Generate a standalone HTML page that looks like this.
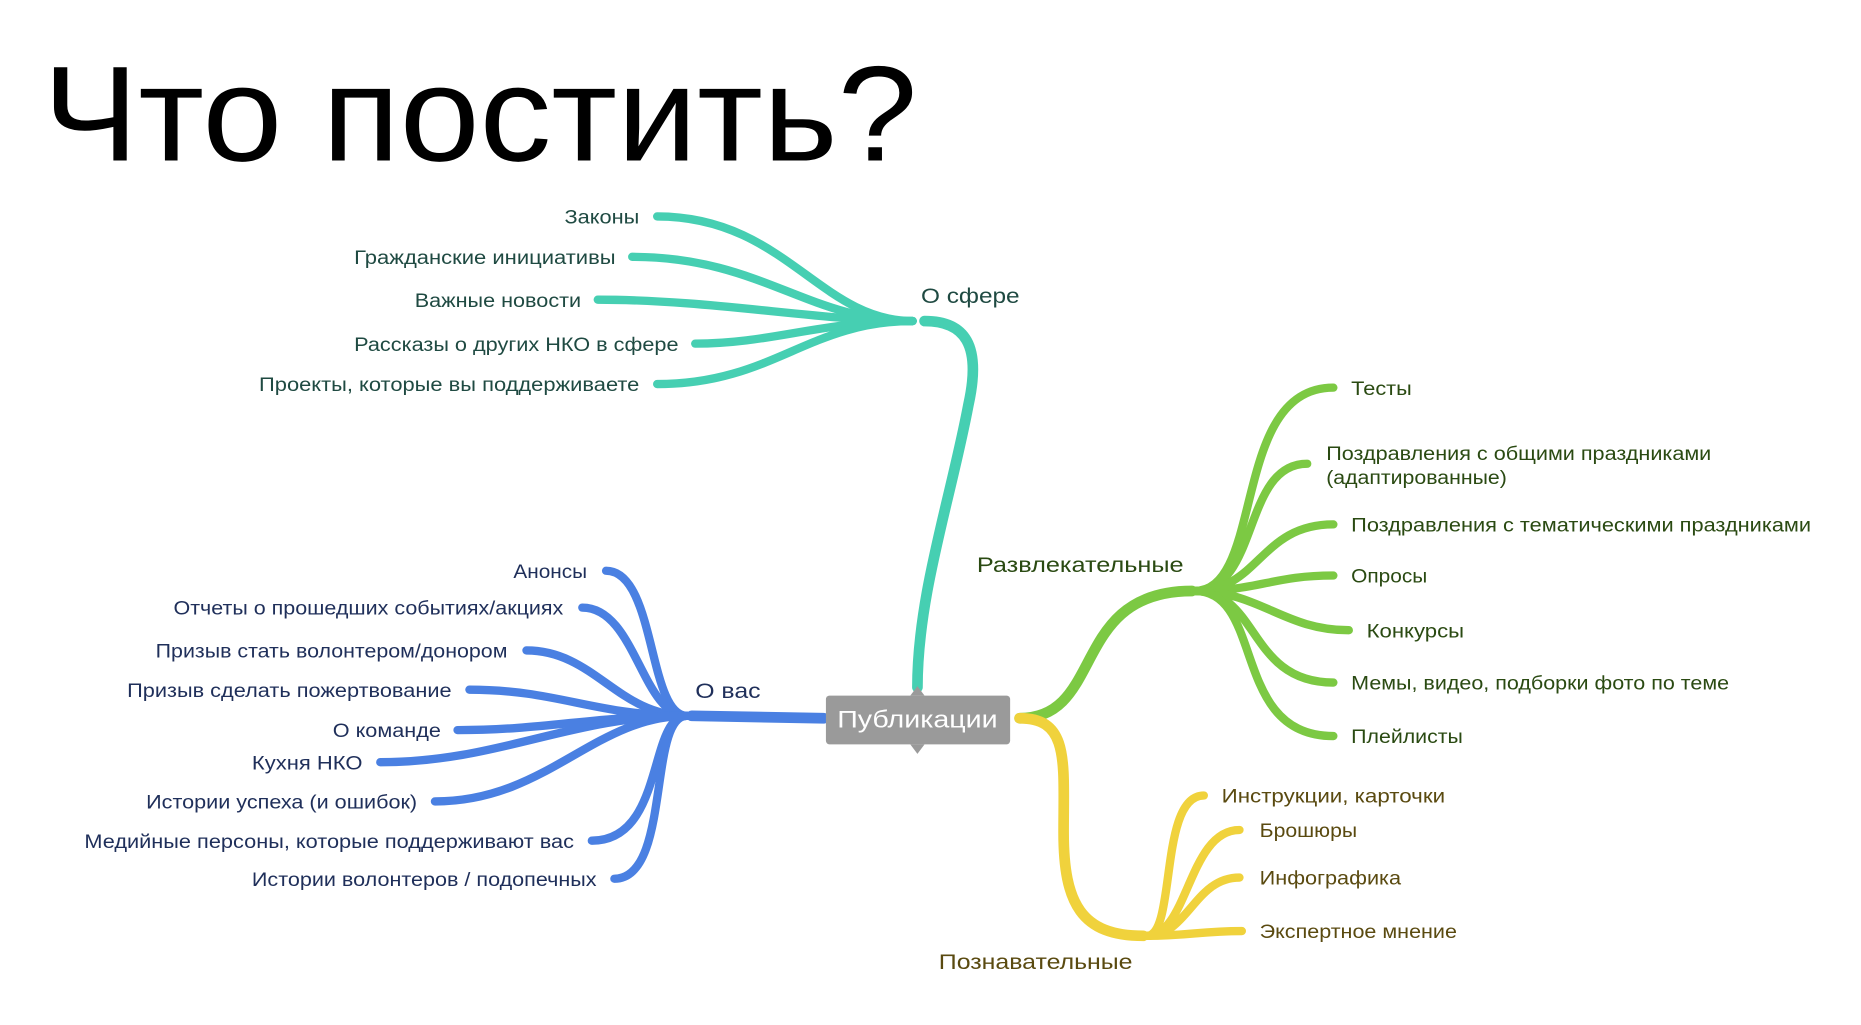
<!DOCTYPE html>
<html><head><meta charset="utf-8"><style>
html,body{margin:0;padding:0;background:#fff;}
svg{display:block;}
text{font-family:"Liberation Sans",sans-serif;}
.l{font-size:16px;}
.l text{lengthAdjust:spacingAndGlyphs;}
</style></head><body>
<svg width="1861" height="1025" viewBox="0 0 1566 862" preserveAspectRatio="none" xmlns="http://www.w3.org/2000/svg">
<text x="36" y="135" font-size="114" fill="#000" textLength="736" lengthAdjust="spacingAndGlyphs">Что постить?</text>

<!-- teal -->
<g fill="none" stroke="#46cfb2" stroke-linecap="round">
<path d="M772,578 C772,500 800,420 815,340 C826,290 812,270 778,270" stroke-width="9"/>
<g stroke-width="7">
<path d="M768,270 C690,270 660,182 553,182"/>
<path d="M768,270 C680,270 640,216 532,216"/>
<path d="M768,270 C690,270 600,252 503,252"/>
<path d="M768,270 C690,270 650,289 585,289"/>
<path d="M768,270 C680,270 650,323 553,323"/>
</g></g>
<g class="l" fill="#1f4a42" text-anchor="end">
<text x="538" y="188" textLength="63" lengthAdjust="spacingAndGlyphs">Законы</text>
<text x="518" y="222" textLength="220" lengthAdjust="spacingAndGlyphs">Гражданские инициативы</text>
<text x="489" y="258" textLength="140" lengthAdjust="spacingAndGlyphs">Важные новости</text>
<text x="571" y="295" textLength="273" lengthAdjust="spacingAndGlyphs">Рассказы о других НКО в сфере</text>
<text x="538" y="329" textLength="320" lengthAdjust="spacingAndGlyphs">Проекты, которые вы поддерживаете</text>
</g>
<text x="775" y="255" font-size="18" fill="#1f4a42" textLength="83" lengthAdjust="spacingAndGlyphs">О сфере</text>

<!-- blue -->
<g fill="none" stroke="#4a80e2" stroke-linecap="round">
<path d="M693,604 L582,602" stroke-width="9"/>
<g stroke-width="7">
<path d="M578,602 C545,602 552,480 510,480"/>
<path d="M578,602 C540,602 535,511 490,511"/>
<path d="M578,602 C520,602 500,547 443,547"/>
<path d="M578,602 C500,602 470,580 395,580"/>
<path d="M578,602 C500,602 460,614 385,614"/>
<path d="M578,602 C480,602 420,641 320,641"/>
<path d="M578,602 C500,602 460,674 366,674"/>
<path d="M578,602 C545,602 560,707 498,707"/>
<path d="M578,602 C545,602 565,739 517,739"/>
</g></g>
<g class="l" fill="#1f2f5a" text-anchor="end">
<text x="494" y="486" textLength="62" lengthAdjust="spacingAndGlyphs">Анонсы</text>
<text x="474" y="517" textLength="328" lengthAdjust="spacingAndGlyphs">Отчеты о прошедших событиях/акциях</text>
<text x="427" y="553" textLength="296" lengthAdjust="spacingAndGlyphs">Призыв стать волонтером/донором</text>
<text x="380" y="586" textLength="273" lengthAdjust="spacingAndGlyphs">Призыв сделать пожертвование</text>
<text x="371" y="620" textLength="91" lengthAdjust="spacingAndGlyphs">О команде</text>
<text x="305" y="647" textLength="93" lengthAdjust="spacingAndGlyphs">Кухня НКО</text>
<text x="351" y="680" textLength="228" lengthAdjust="spacingAndGlyphs">Истории успеха (и ошибок)</text>
<text x="483" y="713" textLength="412" lengthAdjust="spacingAndGlyphs">Медийные персоны, которые поддерживают вас</text>
<text x="502" y="745" textLength="290" lengthAdjust="spacingAndGlyphs">Истории волонтеров / подопечных</text>
</g>
<text x="585" y="587" font-size="18" fill="#1f2f5a" textLength="55" lengthAdjust="spacingAndGlyphs">О вас</text>

<!-- green -->
<g fill="none" stroke="#7cc943" stroke-linecap="round">
<path d="M858,604 C930,604 900,497 1003,497" stroke-width="9"/>
<g stroke-width="7">
<path d="M1005,497 C1065,497 1035,326 1122,326"/>
<path d="M1005,497 C1060,497 1045,390 1100,390"/>
<path d="M1005,497 C1060,497 1060,441 1122,441"/>
<path d="M1005,497 C1060,497 1070,484 1122,484"/>
<path d="M1005,497 C1060,497 1080,530 1135,530"/>
<path d="M1005,497 C1060,497 1050,574 1122,574"/>
<path d="M1005,497 C1065,497 1035,619 1122,619"/>
</g></g>
<g class="l" fill="#2a4a12">
<text x="1137" y="332" textLength="51" lengthAdjust="spacingAndGlyphs">Тесты</text>
<text x="1116" y="387" textLength="324" lengthAdjust="spacingAndGlyphs">Поздравления с общими праздниками</text>
<text x="1116" y="407" textLength="152" lengthAdjust="spacingAndGlyphs">(адаптированные)</text>
<text x="1137" y="447" textLength="387" lengthAdjust="spacingAndGlyphs">Поздравления с тематическими праздниками</text>
<text x="1137" y="490" textLength="64" lengthAdjust="spacingAndGlyphs">Опросы</text>
<text x="1150" y="536" textLength="82" lengthAdjust="spacingAndGlyphs">Конкурсы</text>
<text x="1137" y="580" textLength="318" lengthAdjust="spacingAndGlyphs">Мемы, видео, подборки фото по теме</text>
<text x="1137" y="625" textLength="94" lengthAdjust="spacingAndGlyphs">Плейлисты</text>
</g>
<text x="822" y="481" font-size="18" fill="#2a4a12" textLength="174" lengthAdjust="spacingAndGlyphs">Развлекательные</text>

<!-- yellow -->
<g fill="none" stroke="#f0d23c" stroke-linecap="round">
<path d="M858,604 C900,604 895,640 895,700 C895,760 910,787 962,787" stroke-width="9"/>
<g stroke-width="7">
<path d="M965,787 C990,787 975,669 1013,669"/>
<path d="M965,787 C1000,787 1000,698 1043,698"/>
<path d="M965,787 C1000,787 1005,738 1043,738"/>
<path d="M965,787 C1000,787 1010,783 1045,783"/>
</g></g>
<g class="l" fill="#5a4a10">
<text x="1028" y="675" textLength="188" lengthAdjust="spacingAndGlyphs">Инструкции, карточки</text>
<text x="1060" y="704" textLength="82" lengthAdjust="spacingAndGlyphs">Брошюры</text>
<text x="1060" y="744" textLength="119" lengthAdjust="spacingAndGlyphs">Инфографика</text>
<text x="1060" y="789" textLength="166" lengthAdjust="spacingAndGlyphs">Экспертное мнение</text>
</g>
<text x="790" y="815" font-size="18" fill="#5a4a10" textLength="163" lengthAdjust="spacingAndGlyphs">Познавательные</text>

<!-- center -->
<rect x="695" y="585" width="155" height="41" rx="3" fill="#9a9a9a"/>
<path d="M766,585 L772,577 L778,585 Z M766,626 L772,634 L778,626 Z" fill="#9a9a9a"/>
<text x="772" y="612" text-anchor="middle" font-size="20" fill="#fff" textLength="135" lengthAdjust="spacingAndGlyphs">Публикации</text>
</svg>
</body></html>
